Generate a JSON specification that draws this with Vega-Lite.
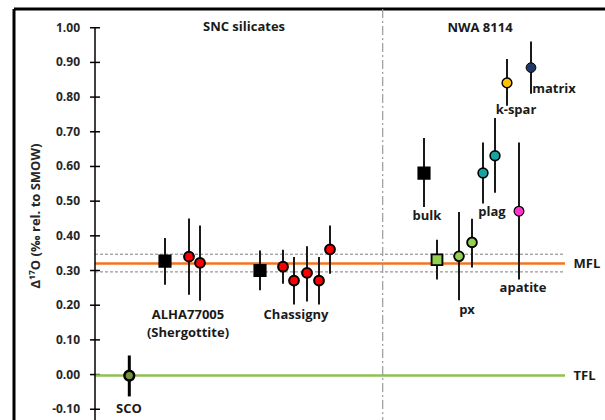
{
  "$schema": "https://vega.github.io/schema/vega-lite/v6.json",
  "width": 591,
  "height": 411,
  "autosize": "none",
  "padding": {"left": 14, "top": 9, "right": 0, "bottom": 0},
  "background": "white",
  "config": {
    "view": {"stroke": null},
    "font": "Open Sans",
    "text": {"font": "Open Sans", "fontWeight": "bold", "fontSize": 13, "color": "#1a1a1a"}
  },
  "datasets": {
    "ticks": [
      {"v": -0.1, "label": "-0.10"}, {"v": 0.0, "label": "0.00"}, {"v": 0.1, "label": "0.10"},
      {"v": 0.2, "label": "0.20"}, {"v": 0.3, "label": "0.30"}, {"v": 0.4, "label": "0.40"},
      {"v": 0.5, "label": "0.50"}, {"v": 0.6, "label": "0.60"}, {"v": 0.7, "label": "0.70"},
      {"v": 0.8, "label": "0.80"}, {"v": 0.9, "label": "0.90"}, {"v": 1.0, "label": "1.00"}
    ],
    "bands": [{"y": 0.347}, {"y": 0.296}],
    "points": [
      {"name": "SCO", "x": 3.43, "y": -0.003, "lo": -0.063, "hi": 0.055, "kind": "circle", "phase": "SCO"},
      {"name": "ALHA77005 bulk", "x": 7.0, "y": 0.327, "lo": 0.259, "hi": 0.394, "kind": "square", "phase": "bulk"},
      {"name": "ALHA77005 1", "x": 9.4, "y": 0.340, "lo": 0.23, "hi": 0.45, "kind": "circle", "phase": "silicate"},
      {"name": "ALHA77005 2", "x": 10.5, "y": 0.322, "lo": 0.213, "hi": 0.43, "kind": "circle", "phase": "silicate"},
      {"name": "Chassigny bulk", "x": 16.5, "y": 0.300, "lo": 0.243, "hi": 0.358, "kind": "square", "phase": "bulk"},
      {"name": "Chassigny 1", "x": 18.8, "y": 0.311, "lo": 0.262, "hi": 0.36, "kind": "circle", "phase": "silicate"},
      {"name": "Chassigny 2", "x": 19.9, "y": 0.271, "lo": 0.202, "hi": 0.339, "kind": "circle", "phase": "silicate"},
      {"name": "Chassigny 3", "x": 21.2, "y": 0.293, "lo": 0.211, "hi": 0.370, "kind": "circle", "phase": "silicate"},
      {"name": "Chassigny 4", "x": 22.4, "y": 0.271, "lo": 0.202, "hi": 0.339, "kind": "circle", "phase": "silicate"},
      {"name": "Chassigny 5", "x": 23.5, "y": 0.361, "lo": 0.291, "hi": 0.43, "kind": "circle", "phase": "silicate"},
      {"name": "NWA 8114 bulk", "x": 32.9, "y": 0.581, "lo": 0.483, "hi": 0.682, "kind": "square", "phase": "bulk"},
      {"name": "NWA 8114 px bulk", "x": 34.2, "y": 0.331, "lo": 0.274, "hi": 0.389, "kind": "square", "phase": "px"},
      {"name": "px 1", "x": 36.4, "y": 0.341, "lo": 0.214, "hi": 0.469, "kind": "circle", "phase": "px"},
      {"name": "px 2", "x": 37.7, "y": 0.381, "lo": 0.309, "hi": 0.449, "kind": "circle", "phase": "px"},
      {"name": "plag 1", "x": 38.8, "y": 0.581, "lo": 0.493, "hi": 0.669, "kind": "circle", "phase": "plag"},
      {"name": "plag 2", "x": 40.0, "y": 0.631, "lo": 0.524, "hi": 0.74, "kind": "circle", "phase": "plag"},
      {"name": "k-spar", "x": 41.2, "y": 0.841, "lo": 0.775, "hi": 0.91, "kind": "circle", "phase": "k-spar"},
      {"name": "apatite", "x": 42.4, "y": 0.471, "lo": 0.274, "hi": 0.669, "kind": "circle", "phase": "apatite"},
      {"name": "matrix", "x": 43.6, "y": 0.885, "lo": 0.81, "hi": 0.96, "kind": "circle", "phase": "matrix"}
    ],
    "labels": [
      {"label": "SNC silicates", "x": 14.9, "y": 1.001},
      {"label": "NWA 8114", "x": 38.5, "y": 0.999},
      {"label": "ALHA77005", "x": 9.3, "y": 0.172},
      {"label": "(Shergottite)", "x": 9.3, "y": 0.120},
      {"label": "Chassigny", "x": 20.1, "y": 0.172},
      {"label": "SCO", "x": 3.4, "y": -0.099},
      {"label": "bulk", "x": 33.2, "y": 0.457},
      {"label": "plag", "x": 39.7, "y": 0.469},
      {"label": "px", "x": 37.2, "y": 0.186},
      {"label": "apatite", "x": 42.8, "y": 0.250},
      {"label": "k-spar", "x": 42.1, "y": 0.763},
      {"label": "matrix", "x": 45.9, "y": 0.823}
    ],
    "lines": [
      {"label": "MFL", "y": 0.32},
      {"label": "TFL", "y": -0.003}
    ],
    "axistitle": [
      {"label": "Δ¹⁷O (‰ rel. to SMOW)", "x": -5.9, "y": 0.457}
    ]
  },
  "layer": [
    {
      "data": {"name": "ticks"},
      "mark": {"type": "rule", "stroke": "black", "strokeWidth": 1.5},
      "encoding": {
        "x": {"datum": -0.5, "type": "quantitative", "scale": {"domain": [-8.1, 51.0], "nice": false, "zero": false}, "axis": null},
        "x2": {"datum": 0.5},
        "y": {"field": "v", "type": "quantitative", "scale": {"domain": [-0.131, 1.054], "nice": false, "zero": false}, "axis": null}
      }
    },
    {
      "data": {"values": [{"edge": "left"}]},
      "mark": {"type": "rule", "stroke": "black", "strokeWidth": 3},
      "encoding": {
        "x": {"datum": -8.1, "type": "quantitative", "axis": null}
      }
    },
    {
      "data": {"values": [{"edge": "top"}]},
      "mark": {"type": "rule", "stroke": "black", "strokeWidth": 3},
      "encoding": {
        "y": {"datum": 1.054, "type": "quantitative", "axis": null}
      }
    },
    {
      "data": {"name": "ticks"},
      "mark": {"type": "text", "align": "right", "baseline": "middle", "fontSize": 12, "color": "#262626"},
      "encoding": {
        "x": {"datum": -1.5, "type": "quantitative", "axis": null},
        "y": {"field": "v", "type": "quantitative", "axis": null},
        "text": {"field": "label"}
      }
    },
    {
      "data": {"name": "axistitle"},
      "mark": {"type": "text", "align": "center", "baseline": "middle", "angle": 270, "fontSize": 13, "color": "#262626"},
      "encoding": {
        "x": {"field": "x", "type": "quantitative", "axis": null},
        "y": {"field": "y", "type": "quantitative", "axis": null},
        "text": {"field": "label"}
      }
    },
    {
      "data": {"name": "bands"},
      "mark": {"type": "rule", "stroke": "#7f7f7f", "strokeWidth": 1, "strokeDash": [3, 2]},
      "encoding": {
        "x": {"datum": 0, "type": "quantitative", "axis": null},
        "x2": {"datum": 47.0},
        "y": {"field": "y", "type": "quantitative", "axis": null}
      }
    },
    {
      "data": {"name": "lines"},
      "transform": [{"filter": "datum.label == 'MFL'"}],
      "mark": {"type": "rule", "stroke": "#F4731F", "strokeWidth": 2.5},
      "encoding": {
        "x": {"datum": 0, "type": "quantitative", "axis": null},
        "x2": {"datum": 47.0},
        "y": {"field": "y", "type": "quantitative", "axis": null}
      }
    },
    {
      "data": {"name": "lines"},
      "transform": [{"filter": "datum.label == 'TFL'"}],
      "mark": {"type": "rule", "stroke": "#92C050", "strokeWidth": 2.5},
      "encoding": {
        "x": {"datum": 0, "type": "quantitative", "axis": null},
        "x2": {"datum": 47.0},
        "y": {"field": "y", "type": "quantitative", "axis": null}
      }
    },
    {
      "data": {"values": [{"x": 28.77}]},
      "mark": {"type": "rule", "stroke": "#9a9a9a", "strokeWidth": 1.2, "strokeDash": [9, 3, 2, 3]},
      "encoding": {
        "x": {"field": "x", "type": "quantitative", "axis": null}
      }
    },
    {
      "data": {"values": [{"top": 1.0, "bottom": -0.131}]},
      "mark": {"type": "rule", "stroke": "black", "strokeWidth": 1.5},
      "encoding": {
        "x": {"datum": 0, "type": "quantitative", "axis": null},
        "y": {"field": "bottom", "type": "quantitative", "axis": null},
        "y2": {"field": "top"}
      }
    },
    {
      "data": {"name": "points"},
      "transform": [{"filter": "datum.phase != 'SCO'"}],
      "mark": {"type": "rule", "stroke": "#1a1a1a", "strokeWidth": 2},
      "encoding": {
        "x": {"field": "x", "type": "quantitative", "axis": null},
        "y": {"field": "lo", "type": "quantitative", "axis": null},
        "y2": {"field": "hi"}
      }
    },
    {
      "data": {"name": "points"},
      "transform": [{"filter": "datum.phase == 'SCO'"}],
      "mark": {"type": "rule", "stroke": "#000000", "strokeWidth": 3},
      "encoding": {
        "x": {"field": "x", "type": "quantitative", "axis": null},
        "y": {"field": "lo", "type": "quantitative", "axis": null},
        "y2": {"field": "hi"}
      }
    },
    {
      "data": {"name": "points"},
      "mark": {"type": "point", "filled": true, "stroke": "black", "opacity": 1, "strokeOpacity": 1},
      "encoding": {
        "x": {"field": "x", "type": "quantitative", "axis": null},
        "y": {"field": "y", "type": "quantitative", "axis": null},
        "shape": {"field": "kind", "type": "nominal", "scale": {"domain": ["circle", "square"], "range": ["circle", "square"]}, "legend": null},
        "size": {"field": "kind", "type": "nominal", "scale": {"domain": ["circle", "square"], "range": [95, 118]}, "legend": null},
        "strokeWidth": {"field": "phase", "type": "nominal", "scale": {"domain": ["SCO", "bulk", "silicate", "px", "plag", "k-spar", "apatite", "matrix"], "range": [2.5, 1, 1.2, 1.2, 1.2, 1.2, 1.2, 1.2]}, "legend": null},
        "fill": {"field": "phase", "type": "nominal", "scale": {"domain": ["SCO", "bulk", "silicate", "px", "plag", "k-spar", "apatite", "matrix"], "range": ["#76923C", "#000000", "#FF0000", "#92D050", "#17A3A3", "#FFC000", "#FF33CC", "#1F3864"]}, "legend": null}
      }
    },
    {
      "data": {"name": "labels"},
      "mark": {"type": "text", "align": "center", "baseline": "middle"},
      "encoding": {
        "x": {"field": "x", "type": "quantitative", "axis": null},
        "y": {"field": "y", "type": "quantitative", "axis": null},
        "text": {"field": "label"}
      }
    },
    {
      "data": {"name": "lines"},
      "mark": {"type": "text", "align": "left", "baseline": "middle"},
      "encoding": {
        "x": {"datum": 47.85, "type": "quantitative", "axis": null},
        "y": {"field": "y", "type": "quantitative", "axis": null},
        "text": {"field": "label"}
      }
    }
  ]
}
